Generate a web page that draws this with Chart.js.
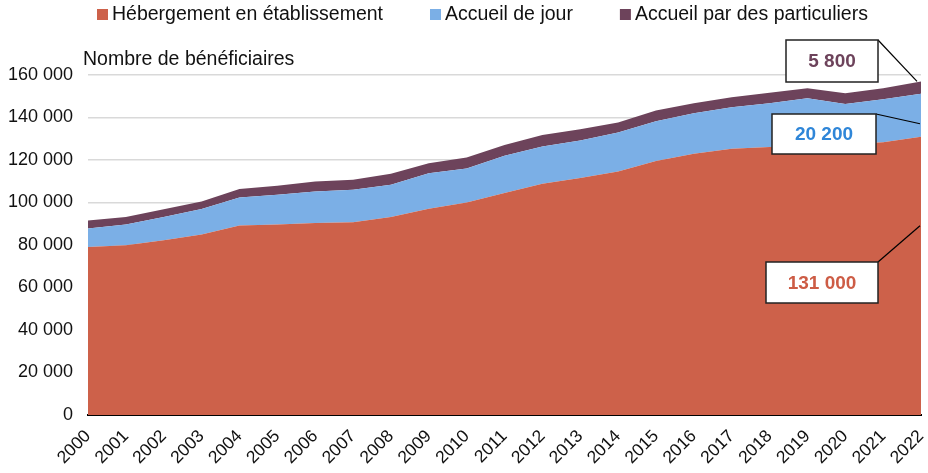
<!DOCTYPE html>
<html>
<head>
<meta charset="utf-8">
<script src="https://cdn.jsdelivr.net/npm/chart.js@4.4.1/dist/chart.umd.min.js"></script>
<style>
  html, body { margin: 0; padding: 0; background: #fff; }
  #wrap { width: 928px; height: 473px; }
</style>
</head>
<body>
<div id="wrap"><canvas id="aides"></canvas></div>
<script>
var annees = ['2000','2001','2002','2003','2004','2005','2006','2007','2008','2009','2010','2011','2012','2013','2014','2015','2016','2017','2018','2019','2020','2021','2022'];
var etablissement = [79100, 79900, 82200, 84900, 89200, 89700, 90400, 90700, 93200, 97100, 100000, 104500, 108800, 111500, 114600, 119500, 123000, 125300, 126100, 127000, 127300, 128300, 131000];
var accueilJour = [8700, 9700, 11000, 12000, 13200, 14000, 14800, 15300, 15200, 16700, 16000, 17500, 17600, 17700, 18300, 18700, 19000, 19500, 20600, 22100, 19100, 20300, 20200];
var particuliers = [3700, 3600, 3600, 3600, 3900, 4200, 4700, 4700, 5100, 4700, 5200, 5100, 5400, 5300, 4700, 5100, 4700, 4700, 5000, 4700, 5000, 5200, 5800];
var seriesNoms = ['Hébergement en établissement', 'Accueil de jour', 'Accueil par des particuliers'];
var couleurs = ['#CD614A', '#7BAFE6', '#6D435B'];
var etiquettes = ['131 000', '20 200', '5 800'];
var yTicks = [0, 20000, 40000, 60000, 80000, 100000, 120000, 140000, 160000];

var police = "'Liberation Sans', Arial, sans-serif";

function milliers(v) {
  return String(v).replace(/\B(?=(\d{3})+(?!\d))/g, ' ');
}

// legende, titre d'axe et encadres
var habillage = {
  id: 'habillage',
  afterDraw: function(chart) {
    var ctx = chart.ctx;
    var xs = chart.scales.x, ys = chart.scales.y;
    ctx.save();

    // legende
    ctx.font = '19.5px ' + police;
    ctx.textBaseline = 'middle';
    ctx.textAlign = 'left';
    var lx = 97;
    chart.data.datasets.forEach(function(ds) {
      ctx.fillStyle = ds.backgroundColor;
      ctx.fillRect(lx, 9, 11, 11);
      ctx.fillStyle = '#111';
      ctx.fillText(ds.label, lx + 15, 15);
      lx += 15 + ctx.measureText(ds.label).width + 47;
    });

    // titre
    ctx.font = '19.5px ' + police;
    ctx.fillText('Nombre de bénéficiaires', 83, 60);

    // encadres
    var last = annees.length - 1;
    var boites = [
      {ds: 0, frac: 0.68, x: 766, y: 262, w: 112, h: 41, col: '#CD5C45'},
      {ds: 1, frac: 0.3, x: 772, y: 114, w: 104, h: 40, col: '#2F86D8'},
      {ds: 2, frac: 1, x: 786, y: 40, w: 92, h: 42, col: '#6D435B'}
    ];
    boites.forEach(function(b, i) {
      var base = 0;
      for (var k = 0; k < b.ds; k++) base += chart.data.datasets[k].data[last];
      var v = base + chart.data.datasets[b.ds].data[last] * b.frac;
      var px = xs.getPixelForValue(last) - (b.ds === 2 ? 4 : 1);
      var py = ys.getPixelForValue(v);
      ctx.strokeStyle = '#000';
      ctx.lineWidth = 1.2;
      ctx.beginPath();
      ctx.moveTo(b.x + b.w, b.y);
      ctx.lineTo(px, py);
      ctx.stroke();
      ctx.fillStyle = '#fff';
      ctx.fillRect(b.x, b.y, b.w, b.h);
      ctx.lineWidth = 1.5;
      ctx.strokeStyle = '#222';
      ctx.strokeRect(b.x, b.y, b.w, b.h);
      ctx.fillStyle = b.col;
      ctx.font = 'bold 19px ' + police;
      ctx.textAlign = 'center';
      ctx.fillText(etiquettes[i], b.x + b.w / 2, b.y + b.h / 2 + 1);
    });
    ctx.restore();
  }
};

var ctx = document.getElementById('aides').getContext('2d');
var chart = new Chart(ctx, {
  type: 'line',
  data: {
    labels: annees,
    datasets: [
      {label: seriesNoms[0], data: etablissement, backgroundColor: couleurs[0], fill: 'origin'},
      {label: seriesNoms[1], data: accueilJour, backgroundColor: couleurs[1], fill: '-1'},
      {label: seriesNoms[2], data: particuliers, backgroundColor: couleurs[2], fill: '-1'}
    ]
  },
  options: {
    responsive: true,
    maintainAspectRatio: false,
    animation: false,
    layout: {padding: {top: 75, right: 7, left: 0, bottom: 0}},
    elements: {
      line: {borderWidth: 0, tension: 0},
      point: {radius: 0}
    },
    plugins: {
      legend: {display: false},
      tooltip: {enabled: false}
    },
    scales: {
      x: {
        offset: false,
        grid: {display: false},
        border: {color: '#000', width: 2},
        ticks: {
          maxRotation: 45, minRotation: 45, autoSkip: false,
          color: '#111', font: {family: police, size: 17.5}, padding: 3
        },
        afterFit: function(s) { s.height = 58; s.paddingLeft = 0; s.paddingRight = 0; }
      },
      y: {
        stacked: true,
        min: 0, max: 160000,
        afterBuildTicks: function(s) { s.ticks = yTicks.map(function(v) { return {value: v}; }); },
        grid: {color: function(c) { return c.tick.value === 0 ? 'rgba(0,0,0,0)' : '#D9D9D9'; }, lineWidth: 1.5, drawTicks: false},
        border: {display: false},
        ticks: {
          color: '#111', font: {family: police, size: 18}, padding: 15,
          callback: function(v) { return milliers(v); }
        },
        afterFit: function(s) { s.width = 88; }
      }
    }
  },
  plugins: [habillage]
});
</script>
</body>
</html>
